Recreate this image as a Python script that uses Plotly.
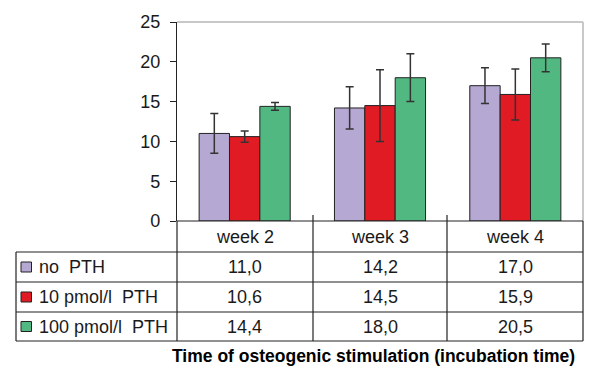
import plotly.graph_objects as go

categories = ["week 2", "week 3", "week 4"]
series_names = ["no  PTH", "10 pmol/l  PTH", "100 pmol/l  PTH"]
values_no_pth = [11.0, 14.2, 17.0]
values_10_pth = [10.6, 14.5, 15.9]
values_100_pth = [14.4, 18.0, 20.5]
err_no_pth = [2.5, 2.65, 2.25]
err_10_pth = [0.7, 4.5, 3.2]
err_100_pth = [0.5, 3.0, 1.75]
y_ticks = [0, 5, 10, 15, 20, 25]
axis_title = "Time of osteogenic stimulation (incubation time)"

colors = ["#B5A8D2", "#E01B24", "#52B882"]
series_values = [values_no_pth, values_10_pth, values_100_pth]
series_errors = [err_no_pth, err_10_pth, err_100_pth]

W, H = 596, 366
L, R, T, B = 177, 13, 22, 145
PW, PH = W - L - R, H - T - B

def px(x):
    return (x - L) / PW

def py(y):
    return (H - B - y) / PH

FONT = "Liberation Sans, Arial, sans-serif"
TXT = "#1a1a1a"
FS = 18

fig = go.Figure()
for name, vals, errs, col in zip(series_names, series_values, series_errors, colors):
    fig.add_trace(go.Bar(
        x=categories, y=vals, name=name,
        marker=dict(color=col, line=dict(color="#222222", width=1)),
        error_y=dict(type="data", array=errs, visible=True,
                     color="#333333", thickness=1.5, width=4),
        showlegend=False,
    ))

shapes = []
line_dark = dict(color="#222222", width=1.2)
line_light = dict(color="#C8C8C8", width=2)
shapes.append(dict(type="line", xref="paper", yref="paper", x0=0, x1=1, y0=1, y1=1, line=line_light))
shapes.append(dict(type="line", xref="paper", yref="paper", x0=1, x1=1, y0=0, y1=1, line=line_light))
shapes.append(dict(type="line", xref="paper", yref="paper", x0=0, x1=1, y0=0, y1=0, line=line_dark))
row_lines = [252, 282, 312, 341]
for yl in row_lines:
    shapes.append(dict(type="line", xref="paper", yref="paper", x0=px(16), x1=1, y0=py(yl), y1=py(yl), line=line_dark))
shapes.append(dict(type="line", xref="paper", yref="paper", x0=px(16), x1=px(16), y0=py(252), y1=py(341), line=line_dark))
for xv in [177, 313, 447, 583]:
    y_top = 221 if xv in (177, 583) else 215
    shapes.append(dict(type="line", xref="paper", yref="paper", x0=px(xv), x1=px(xv), y0=py(y_top), y1=py(341), line=line_dark))

annotations = []
for c in categories:
    annotations.append(dict(x=c, xref="x", y=py(236.5), yref="paper", text=c, showarrow=False,
                            xanchor="center", yanchor="middle", font=dict(family=FONT, size=FS, color=TXT)))
row_centers = [267, 297, 326.5]
for rc, name, vals, col in zip(row_centers, series_names, series_values, colors):
    shapes.append(dict(type="rect", xref="paper", yref="paper", x0=px(21), x1=px(31.5),
                       y0=py(rc + 5), y1=py(rc - 5), fillcolor=col, line=dict(color="#222222", width=1)))
    annotations.append(dict(x=px(37), xref="paper", y=py(rc), yref="paper", text=name, showarrow=False,
                            xanchor="left", yanchor="middle", font=dict(family=FONT, size=FS, color=TXT)))
    for c, v in zip(categories, vals):
        annotations.append(dict(x=c, xref="x", y=py(rc), yref="paper", text=f"{v:.1f}".replace(".", ","),
                                showarrow=False, xanchor="center", yanchor="middle",
                                font=dict(family=FONT, size=FS, color=TXT)))
annotations.append(dict(x=px(373), xref="paper", y=py(356), yref="paper", text=f"<b>{axis_title}</b>",
                        showarrow=False, xanchor="center", yanchor="middle",
                        font=dict(family=FONT, size=17.5, color="#000000")))

fig.update_layout(
    width=W, height=H,
    margin=dict(l=L, r=R, t=T, b=B, pad=0),
    paper_bgcolor="white", plot_bgcolor="white",
    barmode="group", bargap=0.327, bargroupgap=0,
    shapes=shapes, annotations=annotations,
    xaxis=dict(showticklabels=False, ticks="", showline=False, showgrid=False, zeroline=False),
    yaxis=dict(range=[0, 25], tickvals=y_ticks, ticks="outside", ticklen=6, tickcolor="#222222",
               tickwidth=1.2, showline=True, linecolor="#222222", linewidth=1.2, showgrid=False,
               zeroline=False, tickfont=dict(family=FONT, size=FS, color=TXT), ticklabelstandoff=6),
    font=dict(family=FONT),
)

fig.write_html("out.html", config={"displayModeBar": False},
               post_script="document.body.style.margin='0px';document.body.style.overflow='hidden';")
